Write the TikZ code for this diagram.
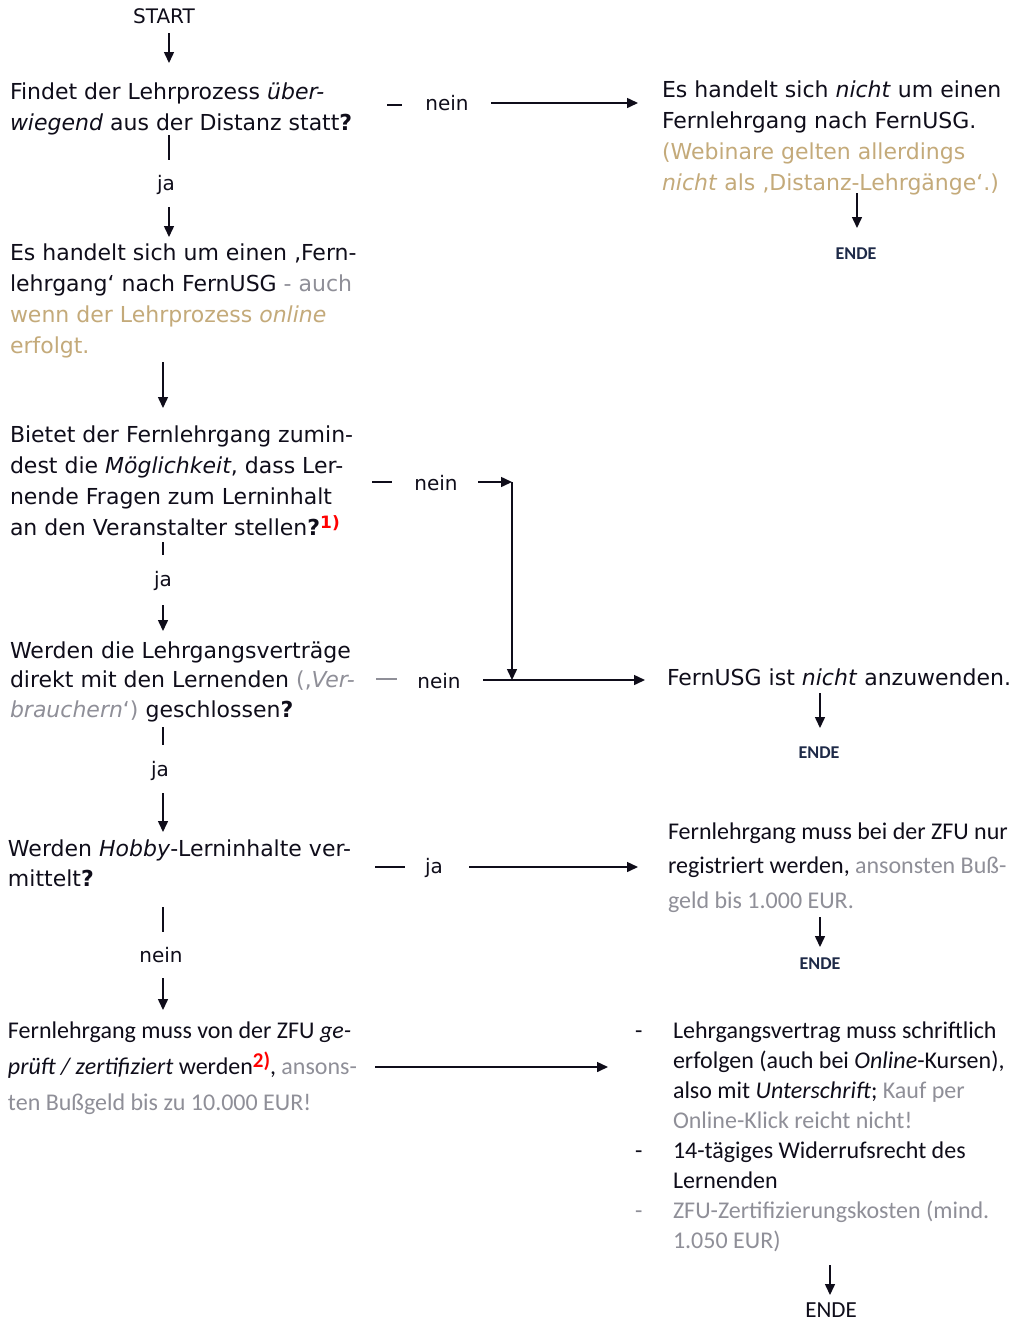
\documentclass[tikz,border=0pt]{standalone}
\usepackage{fontspec}
\setmainfont{DejaVu Sans}
\newfontfamily\verfont{DejaVu Sans}
\newfontfamily\calfont{Carlito}
\usetikzlibrary{arrows.meta}
\definecolor{ink}{HTML}{0F0D1A}
\definecolor{tanc}{HTML}{C4AA7A}
\definecolor{grc}{HTML}{8F8F98}
\definecolor{fnred}{HTML}{FF0000}
\definecolor{navy}{HTML}{1E2A48}
\tikzset{
  vt/.style={anchor=north west, inner sep=0pt, outer sep=0pt, align=left, text=ink, font=\verfont\fontsize{22}{#1}\selectfont},
  ct/.style={anchor=north west, inner sep=0pt, outer sep=0pt, align=left, text=ink, font=\calfont\fontsize{24}{#1}\selectfont},
  lbl/.style={anchor=base, inner sep=0pt, text=ink, font=\verfont\fontsize{20}{24}\selectfont},
  endesmall/.style={inner sep=0pt, text=navy, font=\calfont\bfseries\fontsize{18}{20}\selectfont},
  endebig/.style={inner sep=0pt, text=ink, font=\calfont\fontsize{23}{26}\selectfont},
  listdash/.style={anchor=base west, inner sep=0pt, text=ink, font=\calfont\fontsize{24}{30}\selectfont},
  arr/.style={line width=1.5pt, draw=ink, -{Triangle[length=11pt,width=10pt]}},
  ln/.style={line width=1.5pt, draw=ink},
}
\begin{document}
\begin{tikzpicture}[x=1pt,y=-1pt]
\useasboundingbox[fill=white] (0,0) rectangle (1019,1323);

% START
\node[inner sep=0pt, text=ink, font=\verfont\fontsize{20}{24}\selectfont, anchor=base] (start) at (164,23) {START};

% Q1
\node[vt=31] (q1) at (10,77.3) {\strut Findet der Lehrprozess \textit{über-}\\\textit{wiegend} aus der Distanz statt\textbf{?}};
% R1
\node[vt=31] (r1) at (662,75.3) {\strut Es handelt sich \textit{nicht} um einen\\Fernlehrgang nach FernUSG.\\\textcolor{tanc}{(Webinare gelten allerdings}\\\textcolor{tanc}{\textit{nicht} als ‚Distanz-Lehrgänge‘.)}};
% B2
\node[vt=30.7] (b2) at (10,239.5) {\strut Es handelt sich um einen ‚Fern-\\lehrgang‘ nach FernUSG \textcolor{grc}{- auch}\\\textcolor{tanc}{wenn der Lehrprozess \textit{online}}\\\textcolor{tanc}{erfolgt.}};
% Q3
\node[vt=31] (q3) at (10,420.3) {\strut Bietet der Fernlehrgang zumin-\\dest die \textit{Möglichkeit}, dass Ler-\\nende Fragen zum Lerninhalt\\an den Veranstalter stellen\textbf{?}\raisebox{7pt}{\textcolor{fnred}{\fontsize{17}{17}\selectfont\bfseries 1)}}};
% Q4
\node[vt=29.5] (q4) at (10,637.35) {\strut Werden die Lehrgangsverträge\\direkt mit den Lernenden \textcolor{grc}{(‚\textit{Ver-}}\\\textcolor{grc}{\textit{brauchern}‘)} geschlossen\textbf{?}};
% R2
\node[vt=31] (r2) at (667,663.3) {\strut FernUSG ist \textit{nicht} anzuwenden.};
% Q5
\node[vt=30] (q5) at (8,835) {\strut Werden \textit{Hobby}-Lerninhalte ver-\\mittelt\textbf{?}};
% R3
\node[ct=34.5] (r3) at (668,814.85) {\strut Fernlehrgang muss bei der ZFU nur\\registriert werden, \textcolor{grc}{ansonsten Buß-}\\\textcolor{grc}{geld bis 1.000 EUR.}};
% B6
\node[ct=36] (b6) at (8,1012.8) {\strut Fernlehrgang muss von der ZFU \textit{ge-}\\\textit{prüft / zertifiziert} werden\raisebox{7pt}{\textcolor{fnred}{\fontsize{21}{21}\selectfont\bfseries 2)}}, \textcolor{grc}{ansons-}\\\textcolor{grc}{ten Bußgeld bis zu 10.000 EUR!}};
% R4
\node[ct=30] (r4) at (673,1017) {\strut Lehrgangsvertrag muss schriftlich\\erfolgen (auch bei \textit{Online}-Kursen),\\also mit \textit{Unterschrift}; \textcolor{grc}{Kauf per}\\\textcolor{grc}{Online-Klick reicht nicht!}\\14-tägiges Widerrufsrecht des\\Lernenden\\\textcolor{grc}{ZFU-Zertifizierungskosten (mind.}\\\textcolor{grc}{1.050 EUR)}};
\node[listdash] (d1) at (635,1038) {-};
\node[listdash] (d2) at (635,1158) {-};
\node[listdash, text=grc] (d3) at (635,1218) {-};

% labels
\node[lbl] (n1) at (447,110) {nein};
\node[lbl] (j1) at (166,190) {ja};
\node[lbl] (n3) at (436,490) {nein};
\node[lbl] (j3) at (163,586) {ja};
\node[lbl] (n4) at (439,688) {nein};
\node[lbl] (j4) at (160,776) {ja};
\node[lbl] (j5) at (434,873) {ja};
\node[lbl] (n5) at (161,962) {nein};

% ENDE
\node[endesmall] (e1) at (856,254) {ENDE};
\node[endesmall] (e2) at (819,753) {ENDE};
\node[endesmall] (e3) at (820,964) {ENDE};
\node[endebig] (e4) at (831,1310) {ENDE};

% coordinates
\coordinate (s0a) at (169,33);  \coordinate (s0b) at (169,63);
\coordinate (q1da) at (387,105); \coordinate (q1db) at (402,105);
\coordinate (q1aa) at (491,103); \coordinate (q1ab) at (638,103);
\coordinate (q1ta) at (169,135); \coordinate (q1tb) at (169,160);
\coordinate (q1ya) at (169,207); \coordinate (q1yb) at (169,237);
\coordinate (r1a) at (857,193);  \coordinate (r1b) at (857,228);
\coordinate (b2a) at (163,362);  \coordinate (b2b) at (163,408);
\coordinate (q3da) at (372,482); \coordinate (q3db) at (392,482);
\coordinate (q3aa) at (478,482); \coordinate (corner) at (512,482);
\coordinate (join) at (512,680);
\coordinate (q3ta) at (163,542); \coordinate (q3tb) at (163,555);
\coordinate (q3ya) at (163,605); \coordinate (q3yb) at (163,631);
\coordinate (q4da) at (376,679); \coordinate (q4db) at (397,679);
\coordinate (q4aa) at (483,680); \coordinate (q4ab) at (645,680);
\coordinate (q4ta) at (163,727); \coordinate (q4tb) at (163,745);
\coordinate (q4ya) at (163,793); \coordinate (q4yb) at (163,832);
\coordinate (r2a) at (820,693);  \coordinate (r2b) at (820,728);
\coordinate (q5da) at (375,867); \coordinate (q5db) at (405,867);
\coordinate (q5aa) at (469,867); \coordinate (q5ab) at (638,867);
\coordinate (q5ta) at (163,907); \coordinate (q5tb) at (163,932);
\coordinate (q5na) at (163,978); \coordinate (q5nb) at (163,1010);
\coordinate (r3a) at (820,917);  \coordinate (r3b) at (820,947);
\coordinate (b6a) at (375,1067); \coordinate (b6b) at (608,1067);
\coordinate (r4a) at (830,1265); \coordinate (r4b) at (830,1295);

% connectors
\draw[arr] (s0a) -- (s0b);
\draw[ln] (q1da) -- (q1db);
\draw[arr] (q1aa) -- (q1ab);
\draw[ln] (q1ta) -- (q1tb);
\draw[arr] (q1ya) -- (q1yb);
\draw[arr] (r1a) -- (r1b);
\draw[arr] (b2a) -- (b2b);
\draw[ln] (q3da) -- (q3db);
\draw[arr] (q3aa) -- (corner);
\draw[arr] (corner) -- (join);
\draw[ln] (q3ta) -- (q3tb);
\draw[arr] (q3ya) -- (q3yb);
\draw[ln, draw=grc] (q4da) -- (q4db);
\draw[arr] (q4aa) -- (q4ab);
\draw[ln] (q4ta) -- (q4tb);
\draw[arr] (q4ya) -- (q4yb);
\draw[arr] (r2a) -- (r2b);
\draw[ln] (q5da) -- (q5db);
\draw[arr] (q5aa) -- (q5ab);
\draw[ln] (q5ta) -- (q5tb);
\draw[arr] (q5na) -- (q5nb);
\draw[arr] (r3a) -- (r3b);
\draw[arr] (b6a) -- (b6b);
\draw[arr] (r4a) -- (r4b);
\end{tikzpicture}
\end{document}
